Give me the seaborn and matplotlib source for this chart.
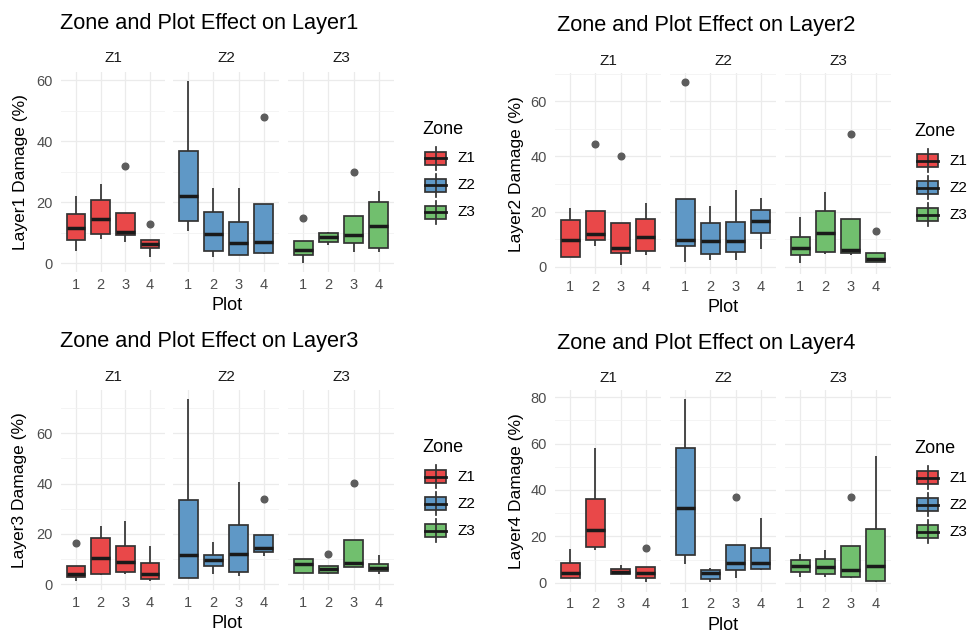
import numpy as np
import pandas as pd
import matplotlib
matplotlib.use("Agg")
import matplotlib.pyplot as plt
import seaborn as sns
from matplotlib.patches import Rectangle
from matplotlib.lines import Line2D
from matplotlib.transforms import Affine2D
from matplotlib.ticker import MultipleLocator

# ---------------- data ----------------
zones = ["Z1", "Z2", "Z3"]
plots = ["1", "2", "3", "4"]
zone_colors = {"Z1": "#E94849", "Z2": "#5F98C6", "Z3": "#71BF6E"}

# order of each list: Z1 P1..P4, Z2 P1..P4, Z3 P1..P4
L1_low  = [4.1, 8.0, 7.1, 2.0,   10.7, 1.9, 2.7, 2.9,   0.0, 5.9, 3.7, 3.6]
L1_q1   = [7.6, 9.5, 9.1, 4.9,   13.9, 4.0, 2.7, 3.5,   2.7, 7.0, 6.8, 5.1]
L1_med  = [11.7, 14.6, 10.4, 6.4, 21.9, 9.5, 6.5, 7.0,  4.4, 8.5, 9.4, 12.3]
L1_q3   = [16.1, 20.6, 16.4, 7.5, 36.8, 16.7, 13.6, 19.5, 7.2, 9.9, 15.6, 19.9]
L1_high = [22.0, 26.0, 16.4, 7.5, 59.8, 24.8, 24.8, 19.5, 7.2, 10.4, 15.6, 23.5]
L1_out  = [None, None, 32.0, 13.0, None, None, None, 47.9, 14.8, None, 29.9, None]

L2_low  = [3.5, 7.5, 0.6, 4.2,   1.7, 2.3, 2.3, 6.3,    1.3, 4.5, 4.4, 1.7]
L2_q1   = [3.5, 9.7, 4.8, 5.7,   7.4, 4.5, 5.3, 12.1,   4.1, 5.4, 4.8, 1.7]
L2_med  = [9.6, 11.7, 6.9, 10.9, 9.7, 9.3, 9.3, 16.7,   6.9, 12.2, 6.2, 2.8]
L2_q3   = [16.9, 20.3, 15.8, 17.4, 24.4, 15.7, 16.1, 20.7, 10.8, 20.3, 17.4, 5.1]
L2_high = [21.4, 20.3, 15.8, 23.2, 24.4, 22.1, 27.9, 25.0, 18.1, 27.1, 17.4, 5.1]
L2_out  = [None, 44.4, 40.0, None, 66.9, None, None, None, None, None, 48.0, 13.1]

L3_low  = [1.4, 3.7, 4.2, 1.2,   2.5, 3.9, 3.2, 11.2,   4.6, 4.2, 6.8, 3.9]
L3_q1   = [2.8, 4.0, 5.0, 2.0,   2.5, 7.4, 5.0, 12.8,   4.6, 4.6, 6.8, 5.1]
L3_med  = [4.0, 10.5, 9.0, 4.0,  11.6, 9.7, 12.1, 14.6, 7.9, 6.1, 8.4, 6.4]
L3_q3   = [7.3, 18.2, 15.3, 8.5, 33.4, 11.8, 23.7, 19.6, 9.9, 7.3, 17.5, 8.0]
L3_high = [7.3, 23.0, 25.2, 15.1, 73.7, 17.0, 40.5, 19.6, 10.1, 7.3, 17.5, 11.7]
L3_out  = [16.3, None, None, None, None, None, None, 33.8, None, 12.0, 40.4, None]

L4_low  = [2.2, 14.0, 3.6, 0.3,  7.9, 0.1, 1.9, 5.5,    2.6, 2.6, 1.9, 0.1]
L4_q1   = [2.2, 15.5, 3.6, 1.9,  11.8, 1.7, 5.3, 6.0,   4.6, 3.9, 2.4, 0.9]
L4_med  = [4.3, 22.6, 4.7, 4.0,  32.2, 4.0, 8.3, 8.5,   7.3, 6.6, 5.5, 7.1]
L4_q3   = [8.3, 36.3, 6.0, 6.8,  58.0, 5.5, 16.4, 15.0, 9.6, 10.2, 15.8, 23.3]
L4_high = [14.7, 58.0, 7.5, 6.8, 79.1, 6.5, 16.4, 27.8, 12.5, 14.2, 15.8, 54.5]
L4_out  = [None, None, None, 14.8, None, None, 37.0, None, None, None, 36.8, None]

layers = {
    1: (L1_low, L1_q1, L1_med, L1_q3, L1_high, L1_out),
    2: (L2_low, L2_q1, L2_med, L2_q3, L2_high, L2_out),
    3: (L3_low, L3_q1, L3_med, L3_q3, L3_high, L3_out),
    4: (L4_low, L4_q1, L4_med, L4_q3, L4_high, L4_out),
}

# Expand each box summary into 9 observations whose quartiles reproduce it
rows = []
for layer, (lo, q1, md, q3, hi, out) in layers.items():
    i = 0
    for z in zones:
        for p in plots:
            obs = [lo[i], lo[i], q1[i], md[i], md[i], md[i], q3[i], hi[i],
                   out[i] if out[i] is not None else hi[i]]
            for v in obs:
                rows.append({"Layer": layer, "Zone": z, "Plot": p, "Damage": v})
            i += 1
df = pd.DataFrame(rows)

# ---------------- figure ----------------
W, H = 974, 633
plt.rcParams["font.family"] = ["Liberation Sans", "DejaVu Sans"]
fig = plt.figure(figsize=(W / 100, H / 100), dpi=100)
fig.patch.set_facecolor("white")
PX = Affine2D().scale(1 / W, -1 / H).translate(0, 1) + fig.transFigure

LEFT_FACETS = [(61, 165), (173, 279), (288, 394)]
RIGHT_FACETS = [(555, 661), (670, 776), (785, 891)]
panels = [
    dict(layer=1, facets=LEFT_FACETS, top=71.5, bottom=272.4, title=(60, 24),
         strip_y=58, xlab_y=306, ylab_x=20.7, leg_x=422, leg_ty=130, key_y=158.3),
    dict(layer=2, facets=RIGHT_FACETS, top=73.1, bottom=274.2, title=(557, 25.5),
         strip_y=61, xlab_y=308, ylab_x=516, leg_x=914, leg_ty=132, key_y=160.7),
    dict(layer=3, facets=LEFT_FACETS, top=389.7, bottom=590.4, title=(60, 341.5),
         strip_y=377, xlab_y=624, ylab_x=20, leg_x=422, leg_ty=447, key_y=476.7),
    dict(layer=4, facets=RIGHT_FACETS, top=390.2, bottom=591.6, title=(557, 343.5),
         strip_y=378, xlab_y=626, ylab_x=516, leg_x=914, leg_ty=448.7, key_y=477.7),
]

EDGE = "#333333"
GRID = "#EBEBEB"

for pn in panels:
    layer = pn["layer"]
    ld = df[df["Layer"] == layer]
    dmin, dmax = ld["Damage"].min(), ld["Damage"].max()
    rng = dmax - dmin
    ylim = (dmin - 0.05 * rng, dmax + 0.05 * rng)
    for k, (z, (x0, x1)) in enumerate(zip(zones, pn["facets"])):
        ax = fig.add_axes([x0 / W, 1 - pn["bottom"] / H, (x1 - x0) / W,
                           (pn["bottom"] - pn["top"]) / H])
        ax.set_facecolor("none")
        sub = ld[ld["Zone"] == z]
        sns.boxplot(data=sub, x="Plot", y="Damage", order=plots,
                    color=zone_colors[z], saturation=1, width=0.75,
                    linecolor=EDGE, linewidth=1.25, showcaps=False,
                    medianprops=dict(color="#1A1A1A", linewidth=2.5),
                    flierprops=dict(marker="o", markerfacecolor="#5C5C5C",
                                    markeredgecolor="#5C5C5C", markersize=4.8),
                    ax=ax)
        ax.set_xlim(-0.6, 3.6)
        ax.set_ylim(*ylim)
        ax.yaxis.set_major_locator(MultipleLocator(20))
        ax.yaxis.set_minor_locator(MultipleLocator(10))
        ax.set_axisbelow(True)
        ax.grid(True, which="major", axis="both", color=GRID, linewidth=0.9)
        ax.grid(True, which="minor", axis="y", color="#F2F2F2", linewidth=0.6)
        for s in ax.spines.values():
            s.set_visible(False)
        ax.set_xlabel("")
        ax.set_ylabel("")
        ax.tick_params(axis="both", which="both", length=0, labelsize=10.5,
                       labelcolor="#4D4D4D")
        ax.tick_params(axis="x", pad=4.0)
        ax.tick_params(axis="y", pad=6)
        if k > 0:
            ax.tick_params(axis="y", labelleft=False)
        fig.text((x0 + x1) / 2, pn["strip_y"], z, transform=PX, ha="center",
                 va="center", fontsize=11, color="#1A1A1A")

    fx0 = pn["facets"][0][0]
    fx1 = pn["facets"][-1][1]
    fig.text(pn["title"][0], pn["title"][1], f"Zone and Plot Effect on Layer{layer}",
             transform=PX, ha="left", va="center", fontsize=15.7, color="black")
    fig.text((fx0 + fx1) / 2, pn["xlab_y"], "Plot", transform=PX, ha="center",
             va="center", fontsize=13, color="black")
    fig.text(pn["ylab_x"], (pn["top"] + pn["bottom"]) / 2, f"Layer{layer} Damage (%)",
             transform=PX, ha="center", va="center", rotation=90, fontsize=12.5,
             color="black")

    # legend (ggplot-style boxplot keys)
    lx = pn["leg_x"]
    fig.text(lx, pn["leg_ty"], "Zone", transform=PX, ha="left", va="center",
             fontsize=13, color="black")
    for j, z in enumerate(zones):
        cy = pn["key_y"] + 27 * j
        bx0, bw, bh = lx + 2.7, 21.6, 13.5
        fig.add_artist(Line2D([bx0 + bw / 2] * 2, [cy - bh / 2 - 4.5, cy + bh / 2 + 4.5],
                              transform=PX, color=EDGE, linewidth=1.25))
        fig.add_artist(Rectangle((bx0, cy - bh / 2), bw, bh, transform=PX,
                                 facecolor=zone_colors[z], edgecolor=EDGE,
                                 linewidth=1.25))
        fig.add_artist(Line2D([bx0, bx0 + bw], [cy, cy], transform=PX,
                              color="#1A1A1A", linewidth=2.0))
        fig.text(lx + 36, cy, z, transform=PX, ha="left", va="center",
                 fontsize=11, color="black")

fig.savefig("out.png", dpi=100, facecolor="white")
